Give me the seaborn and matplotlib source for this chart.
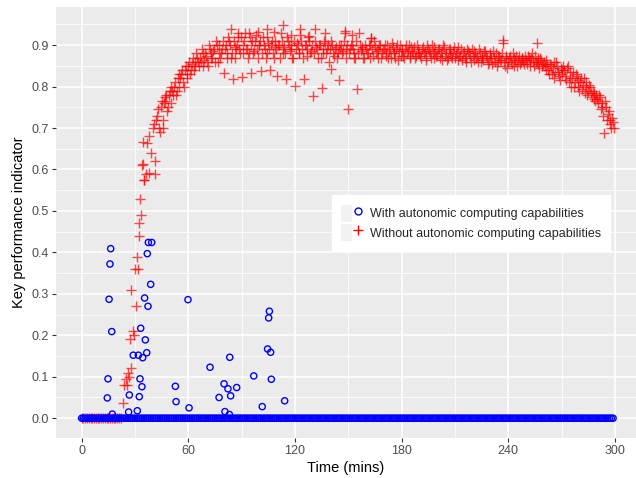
import numpy as np
import pandas as pd
import matplotlib
matplotlib.use('Agg')
import matplotlib.pyplot as plt
import seaborn as sns
from matplotlib.lines import Line2D
from matplotlib.patches import Patch
from matplotlib.legend_handler import HandlerTuple
from matplotlib.ticker import MultipleLocator, FormatStrFormatter

label_with = "With autonomic computing capabilities"
label_without = "Without autonomic computing capabilities"

# KPI without autonomic computing, one reading per minute (0..299)
without_time = np.arange(0, 300)
without_kpi = [
    0, 0, 0, 0, 0, 0, 0, 0, 0, 0,
    0, 0, 0, 0, 0, 0, 0, 0, 0, 0,
    0, 0, 0, 0.036, 0.08, 0.095, 0.11, 0.19, 0.31, 0.21,
    0.36, 0.39, 0.47, 0.53, 0.61, 0.575, 0.59, 0.665, 0.68, 0.64,
    0.70, 0.59, 0.72, 0.745, 0.69, 0.765, 0.70, 0.775, 0.74, 0.78,
    0.76, 0.79, 0.80, 0.78, 0.82, 0.80, 0.83, 0.81, 0.84, 0.82,
    0.85, 0.83, 0.855, 0.84, 0.86, 0.87, 0.85, 0.86, 0.88, 0.865,
    0.875, 0.85, 0.89, 0.87, 0.885, 0.86, 0.90, 0.88, 0.87, 0.89,
    0.832, 0.90, 0.88, 0.91, 0.87, 0.819, 0.895, 0.89, 0.92, 0.88,
    0.823, 0.90, 0.93, 0.89, 0.88, 0.833, 0.91, 0.885, 0.925, 0.87,
    0.90, 0.837, 0.92, 0.89, 0.88, 0.905, 0.841, 0.91, 0.87, 0.895,
    0.825, 0.90, 0.93, 0.88, 0.895, 0.819, 0.91, 0.885, 0.90, 0.87,
    0.802, 0.905, 0.88, 0.925, 0.89, 0.819, 0.90, 0.875, 0.91, 0.885,
    0.777, 0.94, 0.895, 0.87, 0.90, 0.797, 0.88, 0.905, 0.89, 0.86,
    0.843, 0.90, 0.875, 0.895, 0.88, 0.817, 0.90, 0.885, 0.93, 0.87,
    0.745, 0.89, 0.90, 0.88, 0.87, 0.793, 0.93, 0.885, 0.895, 0.87,
    0.89, 0.88, 0.90, 0.918, 0.875, 0.895, 0.885, 0.87, 0.90, 0.88,
    0.89, 0.875, 0.90, 0.885, 0.87, 0.895, 0.88, 0.89, 0.865, 0.90,
    0.885, 0.875, 0.89, 0.88, 0.90, 0.87, 0.885, 0.895, 0.875, 0.89,
    0.88, 0.87, 0.895, 0.885, 0.875, 0.89, 0.88, 0.90, 0.87, 0.885,
    0.875, 0.89, 0.88, 0.865, 0.895, 0.88, 0.87, 0.89, 0.875, 0.885,
    0.87, 0.88, 0.895, 0.875, 0.865, 0.885, 0.87, 0.89, 0.88, 0.86,
    0.875, 0.885, 0.87, 0.86, 0.88, 0.875, 0.865, 0.885, 0.87, 0.86,
    0.875, 0.855, 0.87, 0.88, 0.86, 0.875, 0.865, 0.912, 0.85, 0.87,
    0.86, 0.875, 0.855, 0.87, 0.865, 0.85, 0.875, 0.86, 0.87, 0.855,
    0.865, 0.875, 0.85, 0.87, 0.86, 0.875, 0.905, 0.855, 0.87, 0.85,
    0.86, 0.84, 0.855, 0.83, 0.85, 0.845, 0.82, 0.86, 0.835, 0.815,
    0.84, 0.85, 0.825, 0.845, 0.81, 0.835, 0.82, 0.80, 0.83, 0.815,
    0.79, 0.82, 0.805, 0.785, 0.81, 0.79, 0.80, 0.775, 0.785, 0.765,
    0.77, 0.78, 0.745, 0.76, 0.687, 0.75, 0.735, 0.72, 0.70, 0.715,
]

# second reading each minute, at the half minute (40.5..299.5)
without_half_time = np.arange(40.5, 300, 1.0)
without_half_kpi = [
    0.71, 0.62, 0.73, 0.70, 0.75, 0.72, 0.76, 0.78, 0.75, 0.79,
    0.80, 0.78, 0.81, 0.79, 0.83, 0.82, 0.84, 0.80, 0.85, 0.83,
    0.86, 0.84, 0.87, 0.85, 0.88, 0.86, 0.87, 0.89, 0.85, 0.88,
    0.86, 0.90, 0.88, 0.87, 0.89, 0.91, 0.86, 0.90, 0.88, 0.91,
    0.89, 0.87, 0.92, 0.90, 0.88, 0.91, 0.87, 0.90, 0.89, 0.92,
    0.88, 0.91, 0.89, 0.87, 0.92, 0.90, 0.88, 0.91, 0.89, 0.90,
    0.91, 0.88, 0.90, 0.87, 0.92, 0.89, 0.90, 0.88, 0.91, 0.89,
    0.90, 0.87, 0.91, 0.89, 0.88, 0.92, 0.90, 0.89, 0.87, 0.91,
    0.89, 0.90, 0.88, 0.91, 0.87, 0.90, 0.89, 0.92, 0.88, 0.90,
    0.88, 0.91, 0.89, 0.90, 0.87, 0.89, 0.91, 0.88, 0.90, 0.89,
    0.91, 0.88, 0.89, 0.87, 0.90, 0.89, 0.88, 0.91, 0.89, 0.90,
    0.88, 0.90, 0.89, 0.87, 0.91, 0.88, 0.90, 0.89, 0.87, 0.90,
    0.88, 0.90, 0.87, 0.89, 0.91, 0.88, 0.89, 0.90, 0.87, 0.89,
    0.90, 0.88, 0.87, 0.89, 0.905, 0.88, 0.87, 0.90, 0.885, 0.875,
    0.89, 0.87, 0.90, 0.885, 0.875, 0.895, 0.88, 0.87, 0.90, 0.88,
    0.875, 0.89, 0.88, 0.865, 0.90, 0.885, 0.87, 0.88, 0.895, 0.875,
    0.89, 0.87, 0.885, 0.90, 0.875, 0.865, 0.89, 0.88, 0.87, 0.895,
    0.88, 0.865, 0.875, 0.89, 0.88, 0.87, 0.86, 0.885, 0.875, 0.89,
    0.865, 0.88, 0.875, 0.89, 0.86, 0.87, 0.885, 0.875, 0.855, 0.88,
    0.87, 0.885, 0.86, 0.85, 0.875, 0.865, 0.88, 0.86, 0.875, 0.845,
    0.87, 0.86, 0.88, 0.85, 0.875, 0.865, 0.855, 0.87, 0.86, 0.875,
    0.855, 0.87, 0.865, 0.88, 0.85, 0.86, 0.87, 0.845, 0.865, 0.855,
    0.85, 0.865, 0.84, 0.855, 0.83, 0.86, 0.835, 0.85, 0.825, 0.845,
    0.83, 0.84, 0.815, 0.85, 0.82, 0.80, 0.835, 0.81, 0.825, 0.80,
    0.81, 0.795, 0.82, 0.80, 0.78, 0.805, 0.785, 0.79, 0.77, 0.78,
    0.76, 0.775, 0.75, 0.73, 0.765, 0.72, 0.74, 0.71, 0.725, 0.70,
]

# extra readings on the rising part and the outliers
without_extra_time = [
    25.5, 26.5, 27.5, 29.5, 30.5, 31.5, 32.5, 33.5, 34.7, 35.2,
    37.9, 34.3, 46.9, 84.0, 88.0, 94.0, 99.0, 104.0, 108.0, 113.0,
    118.0, 123.0, 128.0, 137.0, 148.0, 152.0, 163.0, 237.0, 256.0,
]
without_extra_kpi = [
    0.08, 0.10, 0.12, 0.20, 0.27, 0.36, 0.44, 0.49, 0.614, 0.575,
    0.592, 0.666, 0.765, 0.938, 0.930, 0.930, 0.932, 0.940, 0.932, 0.948,
    0.925, 0.940, 0.922, 0.930, 0.934, 0.925, 0.918, 0.905, 0.86,
]

# KPI with autonomic computing: zero at every minute, plus a few spikes
with_time = np.arange(0, 300)
with_kpi = np.zeros(300)
with_spike_time = [
    16.3, 15.9, 15.4, 16.9, 14.8, 14.4, 17.2, 37.5, 39.4, 36.9,
    38.8, 35.4, 37.3, 33.2, 35.8, 29.0, 31.9, 34.3, 36.6, 32.8,
    33.9, 26.8, 32.4, 26.4, 31.3, 59.8, 52.7, 53.1, 60.4, 72.2,
    83.3, 80.1, 82.3, 87.2, 77.3, 83.8, 80.6, 83.1, 96.8, 101.6,
    105.6, 105.2, 104.6, 106.3, 106.7, 114.2,
]
with_spike_kpi = [
    0.409, 0.372, 0.287, 0.209, 0.095, 0.049, 0.010, 0.424, 0.424, 0.397,
    0.323, 0.290, 0.270, 0.217, 0.189, 0.152, 0.152, 0.146, 0.158, 0.095,
    0.076, 0.056, 0.052, 0.015, 0.018, 0.286, 0.077, 0.040, 0.025, 0.123,
    0.147, 0.083, 0.071, 0.074, 0.050, 0.054, 0.016, 0.009, 0.102, 0.028,
    0.258, 0.242, 0.167, 0.159, 0.094, 0.042,
]

df_without = pd.DataFrame({
    "time": np.concatenate([without_time, without_half_time, without_extra_time]),
    "kpi": np.concatenate([without_kpi, without_half_kpi, without_extra_kpi]),
})
df_with = pd.DataFrame({
    "time": np.concatenate([with_time, with_spike_time]),
    "kpi": np.concatenate([with_kpi, with_spike_kpi]),
})

sns.set_theme(style="darkgrid", rc={
    "axes.facecolor": "#EBEBEB",
    "grid.color": "white",
    "axes.edgecolor": "#EBEBEB",
})
plt.rcParams['font.family'] = ['Liberation Sans', 'DejaVu Sans']

fig = plt.figure(figsize=(6.36, 4.78), dpi=100)
ax = fig.add_axes([56 / 636, 40.3 / 478, 580 / 636, 430.7 / 478])

sns.scatterplot(data=df_without, x="time", y="kpi", marker="+", color="red",
                s=55, linewidth=1.0, alpha=0.7, ax=ax, legend=False, zorder=3)
sns.scatterplot(data=df_with, x="time", y="kpi", marker="o", facecolor="none",
                edgecolor="blue", s=20, linewidth=1.0, ax=ax, legend=False, zorder=4)

ax.set_xlim(-14.46, 311.9)
ax.set_ylim(-0.047, 0.992)
ax.xaxis.set_major_locator(MultipleLocator(60))
ax.xaxis.set_minor_locator(MultipleLocator(30))
ax.yaxis.set_major_locator(MultipleLocator(0.1))
ax.yaxis.set_minor_locator(MultipleLocator(0.05))
ax.yaxis.set_major_formatter(FormatStrFormatter('%.1f'))
ax.grid(which="major", color="white", linewidth=1.1)
ax.grid(which="minor", color="white", linewidth=0.55)
ax.tick_params(which="major", length=3, width=0.8, color="#333333",
               labelcolor="#4D4D4D", labelsize=9, pad=2, bottom=True, left=True)
ax.tick_params(which="minor", length=0)
for sp in ax.spines.values():
    sp.set_visible(False)

ax.set_xlabel("Time (mins)", fontsize=10.5, color="black", labelpad=3)
ax.set_ylabel("Key performance indicator", fontsize=10.5, color="black", labelpad=4)

key_bg = "#F2F2F2"
h_with = (Patch(facecolor=key_bg, edgecolor="none"),
          Line2D([], [], marker="o", linestyle="none", markerfacecolor="none",
                 markeredgecolor="blue", markersize=5, markeredgewidth=1.0))
h_without = (Patch(facecolor=key_bg, edgecolor="none"),
             Line2D([], [], marker="+", linestyle="none", color="red",
                    markersize=7, markeredgewidth=1.0))
leg = ax.legend([h_with, h_without], [label_with, label_without],
                handler_map={tuple: HandlerTuple(ndivide=None, pad=0)},
                loc="center", bbox_to_anchor=(0.7155, 0.4985),
                fontsize=9, frameon=True, fancybox=False, framealpha=1,
                handlelength=1.8, handleheight=1.75, handletextpad=0.5,
                labelspacing=0.18, borderpad=0.75, borderaxespad=0)
leg.get_frame().set_facecolor("white")
leg.get_frame().set_edgecolor("white")

fig.savefig("out.png", dpi=100)
